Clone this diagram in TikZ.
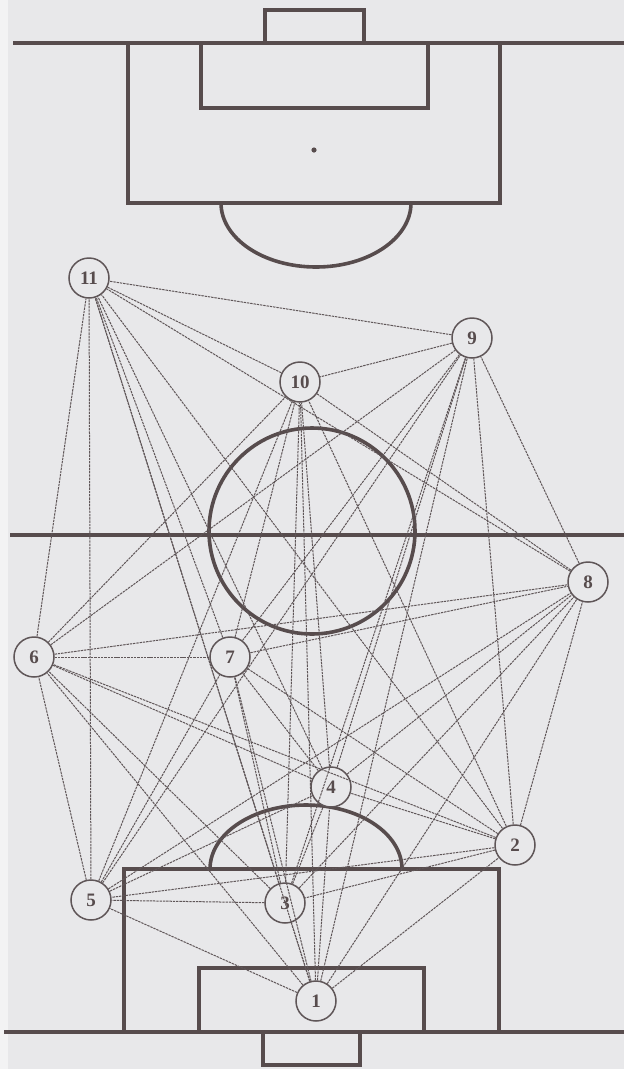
\documentclass[tikz,border=0pt]{standalone}
\usepackage{fontspec}
\setmainfont{Liberation Serif}
\usetikzlibrary{positioning}
\definecolor{Ink}{HTML}{574C4D}
\definecolor{Pencil}{HTML}{5F5658}
\definecolor{Paper}{HTML}{E8E8EA}
\definecolor{Margin}{HTML}{F3F3F4}
\tikzset{
  markline/.style={draw=Ink,line width=3.6pt},
  player/.style={circle,draw=Pencil,line width=1.5pt,fill=Paper,minimum size=40pt,
    inner sep=0pt,font=\fontsize{19}{19}\selectfont\bfseries,text=Ink},
  pass/.style={draw=Pencil,line width=1pt,dash pattern=on 2.4pt off .9pt}
}
\begin{document}
\begin{tikzpicture}[x=1pt,y=-1pt]
  \fill[Paper] (0,0) rectangle (624,1069);
  \fill[Margin] (0,0) rectangle (8,1069);
  \useasboundingbox (0,0) rectangle (624,1069);
  % upper half of the field
  \draw[markline] (13,43) -- (624,43);
  \draw[markline] (265,43) rectangle (364,10);
  \draw[markline] (128,43) rectangle (500,203);
  \draw[markline] (201,43) rectangle (428,108);
  \fill[Ink] (314,150) circle (2.6pt);
  \draw[markline] (221,203) arc[start angle=180,end angle=360,x radius=95pt,y radius=64pt];
  % centre
  \draw[markline] (10,535) -- (624,535);
  \draw[markline] (312,531) circle (103pt);
  % lower half of the field
  \draw[markline] (4,1032) -- (624,1032);
  \draw[markline] (124,1032) rectangle (499,869);
  \draw[markline] (199,1032) rectangle (424,968);
  \draw[markline] (263,1032) rectangle (360,1065);
  \draw[markline] (210,869) arc[start angle=180,end angle=0,x radius=96pt,y radius=64pt];
  % players
  \node[player] (p1) at (316,1001) {1};
  \node[player] (p2) at (515,845) {2};
  \node[player] (p3) at (285,903) {3};
  \node[player] (p4) at (331,787) {4};
  \node[player] (p5) at (91,900) {5};
  \node[player] (p6) at (34,657) {6};
  \node[player] (p7) at (230,657) {7};
  \node[player] (p8) at (588,582) {8};
  \node[player] (p9) at (472,338) {9};
  \node[player] (p10) at (300,382) {10};
  \node[player] (p11) at (89,278) {11};
  % links between every pair of players
  \foreach \i in {1,...,10}{
    \pgfmathtruncatemacro\nxt{\i+1}
    \foreach \j in {\nxt,...,11}
      \draw[pass] (p\i) -- (p\j);
  }
\end{tikzpicture}
\end{document}
